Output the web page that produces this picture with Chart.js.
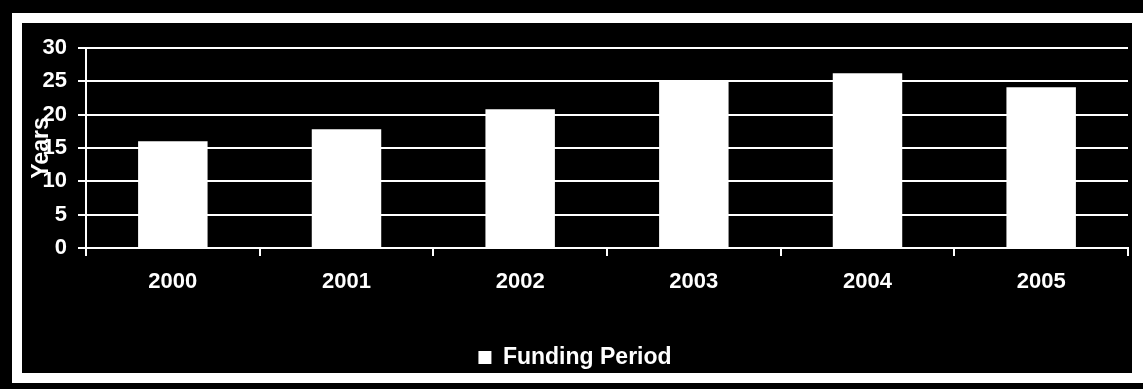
<!DOCTYPE html>
<html lang="en">
<head>
    <meta charset="UTF-8">
    <script src="https://cdn.jsdelivr.net/npm/chart.js"></script>
    <style>
        body {
            margin: 0;
            background: #000;
            width: 1143px;
            height: 389px;
            overflow: hidden;
        }
        #frame {
            position: absolute;
            left: 12px;
            top: 13px;
            width: 1110px;
            height: 350px;
            border: 10px solid #fff;
            border-right-width: 11px;
            background: #000;
        }
    </style>
    <title>Funding Period</title>
</head>
<body>
    <div id="frame">
        <canvas id="fundChart" width="1110" height="350"></canvas>
    </div>
<script>
    // values
    var years = ['2000', '2001', '2002', '2003', '2004', '2005'];
    var fundingPeriod = [16, 17.8, 20.8, 24.9, 26.2, 24.1];
    var seriesName = 'Funding Period';
    var yTitle = 'Years';
    var yMin = 0, yMax = 30, yStep = 5;

    var fnt = { family: '"Liberation Sans", Arial, sans-serif', size: 22, weight: 'bold' };

    var chart = new Chart(document.getElementById('fundChart'), {
        type: 'bar',
        data: {
            labels: years,
            datasets: [{
                label: seriesName,
                data: fundingPeriod,
                backgroundColor: '#fff',
                borderWidth: 0,
                barPercentage: 0.4,
                categoryPercentage: 1.0
            }]
        },
        options: {
            responsive: false,
            devicePixelRatio: 1,
            animation: false,
            layout: { padding: { left: 0, right: 4, top: 25, bottom: -6 } },
            plugins: {
                tooltip: { enabled: false },
                legend: {
                    position: 'bottom',
                    labels: {
                        color: '#fff',
                        font: { family: fnt.family, size: 23, weight: 'bold' },
                        boxWidth: 13,
                        boxHeight: 13,
                        padding: 0
                    }
                }
            },
            scales: {
                x: {
                    grid: {
                        drawOnChartArea: false,
                        drawTicks: true,
                        tickLength: 8,
                        color: '#fff',
                        lineWidth: 2
                    },
                    border: { color: '#fff', width: 2 },
                    ticks: { color: '#fff', font: fnt, padding: 13, maxRotation: 0 },
                    afterFit: function(scale) { scale.height = 98; }
                },
                y: {
                    min: yMin,
                    max: yMax,
                    grid: {
                        color: '#fff',
                        lineWidth: 2,
                        tickLength: 8
                    },
                    border: { color: '#fff', width: 2 },
                    ticks: { color: '#fff', font: fnt, stepSize: yStep, padding: 11 },
                    title: {
                        display: true,
                        text: yTitle,
                        color: '#fff',
                        font: { family: fnt.family, size: 23, weight: 'bold' },
                        padding: { top: 6, bottom: 0 }
                    },
                    afterFit: function(scale) { scale.width = 64; }
                }
            }
        }
    });
</script>
</body>
</html>
